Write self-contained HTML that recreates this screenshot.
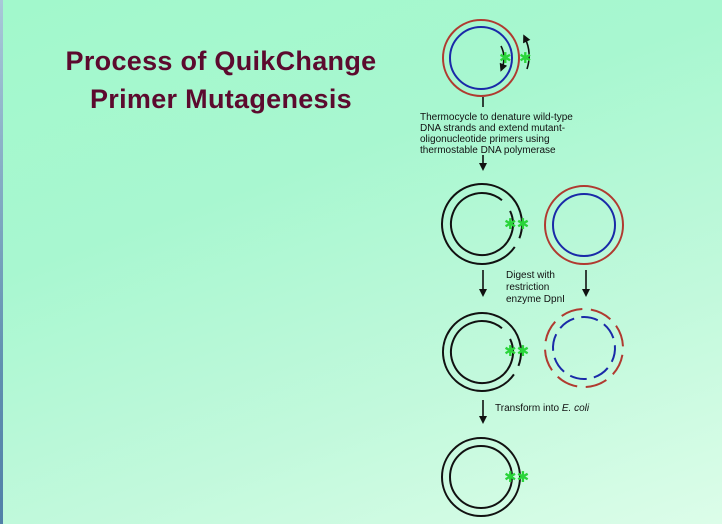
<!DOCTYPE html>
<html><head><meta charset="utf-8"><style>
html,body{margin:0;padding:0;}
body{width:722px;height:524px;overflow:hidden;position:relative;
background:linear-gradient(160deg,#a2f8cc 0%,#a8f7d0 35%,#c2f9dc 70%,#dcfde9 100%);}
.strip{position:absolute;left:0;top:0;width:3px;height:524px;background:linear-gradient(#a8c8d8,#6090b0 70%,#5080a8);}
.title{position:absolute;left:0;width:442px;top:42px;text-align:center;font:bold 27px/38px "Liberation Sans",sans-serif;letter-spacing:0.3px;color:#5c0a2e;}
svg{position:absolute;left:0;top:0;}
.t{font-family:"Liberation Sans",sans-serif;font-size:10px;fill:#111;}
.s{font-family:"DejaVu Sans",sans-serif;fill:#2ad43a;font-weight:bold;}
</style></head><body>
<div class="strip"></div>
<div class="title">Process of QuikChange<br>Primer Mutagenesis</div>
<svg width="722" height="524" viewBox="0 0 722 524">
<defs>
<marker id="ah" markerWidth="8" markerHeight="8" refX="4" refY="4" orient="auto" markerUnits="userSpaceOnUse"><path d="M0,0 L8,4 L0,8 z" fill="#111"/></marker>
</defs>
<g fill="none" stroke-width="2">
<circle cx="481" cy="58" r="38" stroke="#b03a30"/>
<circle cx="481" cy="58" r="31" stroke="#1a2aa8"/>
<path d="M501,46 A27,27 0 0 1 502,68" stroke="#111" stroke-width="1.6" marker-end="url(#ah)"/>
<path d="M527,69 A42,42 0 0 0 525,38" stroke="#111" stroke-width="1.6" marker-end="url(#ah)"/>
<circle cx="482" cy="224" r="40" stroke="#111" stroke-dasharray="241 10.5" transform="rotate(35 482 224)"/>
<circle cx="482" cy="224" r="31" stroke="#111" stroke-dasharray="181 13.8" transform="rotate(-25 482 224)"/>
<circle cx="584" cy="225" r="39" stroke="#b03a30"/>
<circle cx="584" cy="225" r="31" stroke="#1a2aa8"/>
<circle cx="482" cy="352" r="39" stroke="#111" stroke-dasharray="235 10" transform="rotate(35 482 352)"/>
<circle cx="482" cy="352" r="31" stroke="#111" stroke-dasharray="181 13.8" transform="rotate(-25 482 352)"/>
<circle cx="584" cy="348" r="39" stroke="#b03a30" stroke-dasharray="22 8.6" transform="rotate(10 584 348)"/>
<circle cx="584" cy="348" r="31" stroke="#1a2aa8" stroke-dasharray="17 7.3" transform="rotate(-5 584 348)"/>
<circle cx="481" cy="477" r="39" stroke="#111"/>
<circle cx="481" cy="477" r="31" stroke="#111"/>
<g stroke="#111" stroke-width="1.6">
<line x1="483" y1="97" x2="483" y2="107"/>
<line x1="483" y1="155" x2="483" y2="167" marker-end="url(#ah)"/>
<line x1="483" y1="270" x2="483" y2="293" marker-end="url(#ah)"/>
<line x1="586" y1="270" x2="586" y2="293" marker-end="url(#ah)"/>
<line x1="483" y1="400" x2="483" y2="420" marker-end="url(#ah)"/>
</g>
</g>
<text class="s" x="499" y="63" font-size="15">✱</text>
<text class="s" x="519" y="63" font-size="15">✱</text>
<text class="s" x="504" y="229" font-size="15">✱✱</text>
<text class="s" x="504" y="356" font-size="15">✱✱</text>
<text class="s" x="504" y="482" font-size="15">✱✱</text>
<text class="t" x="420" y="120">Thermocycle to denature wild-type</text>
<text class="t" x="420" y="131">DNA strands and extend mutant-</text>
<text class="t" x="420" y="142">oligonucleotide primers using</text>
<text class="t" x="420" y="153">thermostable DNA polymerase</text>
<text class="t" x="506" y="278">Digest with</text>
<text class="t" x="506" y="290">restriction</text>
<text class="t" x="506" y="302">enzyme DpnI</text>
<text class="t" x="495" y="411">Transform into <tspan font-style="italic">E. coli</tspan></text>
</svg>
</body></html>
